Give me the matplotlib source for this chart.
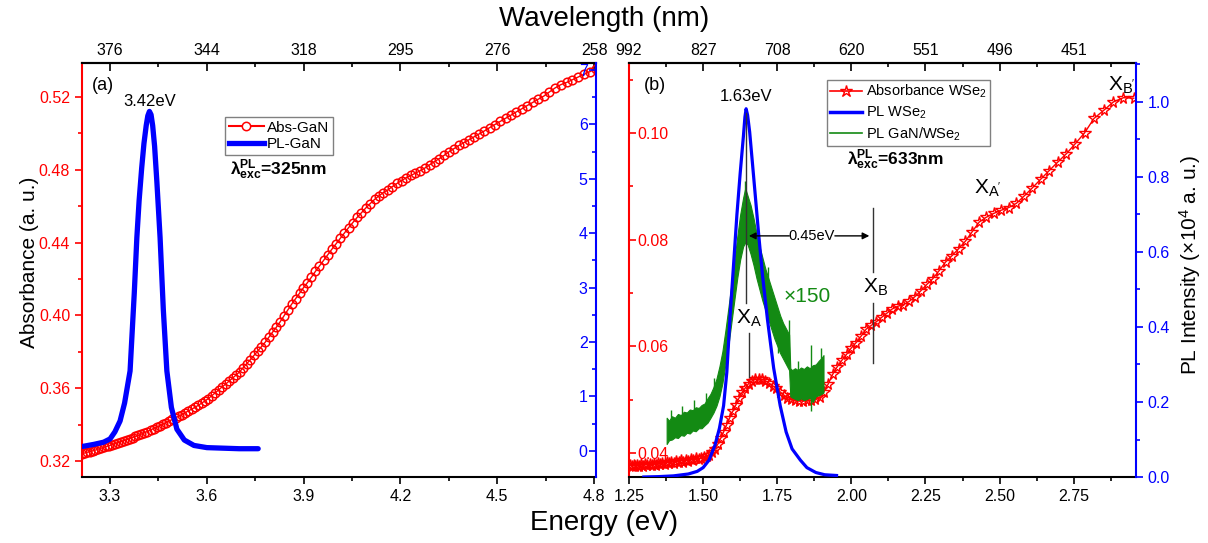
import numpy as np
import matplotlib
matplotlib.use("Agg")
import matplotlib.pyplot as plt
from matplotlib.ticker import MultipleLocator
from matplotlib.lines import Line2D

plt.rcParams['font.family'] = ['Liberation Sans', 'DejaVu Sans']
plt.rcParams['mathtext.fontset'] = 'custom'
plt.rcParams['mathtext.rm'] = 'Liberation Sans'
plt.rcParams['mathtext.it'] = 'Liberation Sans:italic'
plt.rcParams['mathtext.bf'] = 'Liberation Sans:bold'

# ---------------- data: panel (a) ----------------
gan_wavelength = np.arange(258, 387)  # nm, 1 nm steps
gan_abs = [0.5355, 0.5340, 0.5325, 0.5310, 0.5295, 0.5280, 0.5268, 0.5250, 0.5228, 0.5205,
           0.5188, 0.5170, 0.5153, 0.5135, 0.5118, 0.5100, 0.5083, 0.5066, 0.5049, 0.5032,
           0.5014, 0.4998, 0.4982, 0.4966, 0.4950, 0.4934, 0.4917, 0.4900, 0.4880, 0.4862,
           0.4845, 0.4828, 0.4810, 0.4795, 0.4782, 0.4769, 0.4756, 0.4741, 0.4725, 0.4708,
           0.4690, 0.4675, 0.4657, 0.4637, 0.4614, 0.4590, 0.4564, 0.4538, 0.4510, 0.4482,
           0.4452, 0.4423, 0.4393, 0.4363, 0.4332, 0.4302, 0.4272, 0.4242, 0.4210, 0.4180,
           0.4152, 0.4122, 0.4092, 0.4062, 0.4030, 0.3997, 0.3965, 0.3935, 0.3908, 0.3880,
           0.3852, 0.3828, 0.3805, 0.3780, 0.3757, 0.3735, 0.3713, 0.3690, 0.3672, 0.3655,
           0.3638, 0.3622, 0.3607, 0.3590, 0.3574, 0.3558, 0.3543, 0.3530, 0.3518, 0.3506,
           0.3495, 0.3485, 0.3475, 0.3465, 0.3455, 0.3446, 0.3437, 0.3428, 0.3420, 0.3411,
           0.3402, 0.3394, 0.3386, 0.3378, 0.3370, 0.3362, 0.3355, 0.3348, 0.3341, 0.3335,
           0.3329, 0.3323, 0.3317, 0.3311, 0.3305, 0.3300, 0.3295, 0.3290, 0.3285, 0.3280,
           0.3275, 0.3270, 0.3265, 0.3260, 0.3256, 0.3252, 0.3248, 0.3244, 0.3240]

gan_pl_E = [3.213, 3.25, 3.28, 3.30, 3.315, 3.331, 3.345, 3.362, 3.375, 3.383, 3.39, 3.398,
            3.405, 3.412, 3.417, 3.422, 3.427, 3.432, 3.438, 3.445, 3.455, 3.465, 3.476,
            3.49, 3.507, 3.53, 3.56, 3.60, 3.65, 3.70, 3.759]
gan_pl = [0.08, 0.12, 0.16, 0.22, 0.35, 0.55, 0.88, 1.47, 2.9, 3.92, 4.6, 5.2,
          5.65, 5.98, 6.16, 6.24, 6.18, 5.98, 5.6, 4.95, 3.92, 2.6, 1.47,
          0.8, 0.40, 0.20, 0.10, 0.06, 0.05, 0.04, 0.04]

# ---------------- data: panel (b) ----------------
wse2_wavelength = np.arange(420, 991, 5)  # nm, 5 nm steps
wse2_abs = [0.1065, 0.1066, 0.1058, 0.1042, 0.1027, 0.1000, 0.0980, 0.0961, 0.0945, 0.0929,
            0.0913, 0.0897, 0.0882, 0.0868, 0.0860, 0.0855, 0.0849, 0.0842, 0.0833, 0.0815,
            0.0797, 0.0783, 0.0770, 0.0758, 0.0742, 0.0727, 0.0716, 0.0704, 0.0693, 0.0684,
            0.0678, 0.0675, 0.0670, 0.0662, 0.0654, 0.0646, 0.0639, 0.0632, 0.0619, 0.0607,
            0.0597, 0.0585, 0.0574, 0.0562, 0.0548, 0.0530, 0.0515, 0.0505, 0.0501, 0.0499,
            0.0499, 0.0498, 0.0498, 0.0499, 0.0501, 0.0504, 0.0509, 0.0515, 0.0521, 0.0526,
            0.0531, 0.0535, 0.0538, 0.0539, 0.0538, 0.0535, 0.0530, 0.0522, 0.0514, 0.0503,
            0.0490, 0.0478, 0.0466, 0.0453, 0.0440, 0.0428, 0.0417, 0.0408, 0.0401, 0.0397,
            0.0394, 0.0392, 0.0390, 0.0389, 0.0390, 0.0387, 0.0388, 0.0385, 0.0387, 0.0384,
            0.0386, 0.0383, 0.0385, 0.0382, 0.0384, 0.0381, 0.0383, 0.0380, 0.0382, 0.0379,
            0.0381, 0.0378, 0.0380, 0.0377, 0.0380, 0.0377, 0.0379, 0.0376, 0.0379, 0.0376,
            0.0378, 0.0375, 0.0378, 0.0376, 0.0377]

wse2_pl_E = [1.30, 1.35, 1.40, 1.45, 1.48, 1.50, 1.52, 1.54, 1.555, 1.569, 1.58, 1.591,
             1.603, 1.614, 1.625, 1.636, 1.641, 1.645, 1.650, 1.657, 1.666, 1.676, 1.687,
             1.700, 1.717, 1.738, 1.760, 1.78, 1.80, 1.828, 1.85, 1.88, 1.91, 1.95]
wse2_pl = [0.0, 0.001, 0.003, 0.008, 0.015, 0.025, 0.045, 0.085, 0.13, 0.19, 0.28, 0.43,
           0.57, 0.70, 0.81, 0.91, 0.96, 0.982, 0.965, 0.92, 0.84, 0.75, 0.65,
           0.54, 0.42, 0.29, 0.19, 0.12, 0.075, 0.045, 0.025, 0.012, 0.006, 0.004]

green_E = [1.377, 1.385, 1.395, 1.405, 1.415, 1.425, 1.435, 1.445, 1.455, 1.465, 1.475, 1.485,
           1.495, 1.505, 1.515, 1.525, 1.535, 1.545, 1.555, 1.565, 1.575, 1.585, 1.595, 1.605,
           1.615, 1.625, 1.635, 1.642, 1.650, 1.660, 1.670, 1.680, 1.690, 1.700, 1.710, 1.720,
           1.730, 1.740, 1.750, 1.760, 1.770, 1.780, 1.790, 1.794, 1.800, 1.810, 1.820, 1.830,
           1.840, 1.850, 1.860, 1.870, 1.880, 1.890, 1.900, 1.906]
green_low = [0.088, 0.098, 0.100, 0.106, 0.104, 0.112, 0.110, 0.118, 0.116, 0.124, 0.122, 0.130,
             0.130, 0.138, 0.145, 0.158, 0.172, 0.190, 0.215, 0.250, 0.300, 0.350, 0.410, 0.470,
             0.530, 0.580, 0.615, 0.625, 0.620, 0.595, 0.565, 0.530, 0.500, 0.470, 0.445, 0.420,
             0.395, 0.370, 0.350, 0.330, 0.315, 0.300, 0.285, 0.215, 0.212, 0.208, 0.205, 0.210,
             0.205, 0.208, 0.212, 0.200, 0.215, 0.218, 0.222, 0.225]
green_high = [0.158, 0.150, 0.162, 0.158, 0.168, 0.165, 0.174, 0.172, 0.180, 0.178, 0.186, 0.184,
              0.192, 0.196, 0.210, 0.222, 0.240, 0.262, 0.295, 0.335, 0.390, 0.450, 0.510, 0.575,
              0.640, 0.700, 0.745, 0.770, 0.750, 0.725, 0.690, 0.650, 0.615, 0.585, 0.555, 0.530,
              0.505, 0.480, 0.455, 0.430, 0.410, 0.395, 0.380, 0.290, 0.285, 0.290, 0.285, 0.292,
              0.288, 0.295, 0.290, 0.298, 0.300, 0.310, 0.318, 0.325]
spike_E = [1.39, 1.43, 1.47, 1.51, 1.536, 1.64, 1.72, 1.754, 1.791, 1.82, 1.864, 1.896]
spike_low = [0.14, 0.15, 0.17, 0.18, 0.22, 0.70, 0.50, 0.33, 0.30, 0.26, 0.176, 0.28]
spike_high = [0.18, 0.19, 0.205, 0.225, 0.265, 0.79, 0.56, 0.437, 0.42, 0.31, 0.353, 0.345]

top_ticks_a = [3.3, 3.6, 3.9, 4.2, 4.5, 4.8]
top_labels_a = ['376', '344', '318', '295', '276', '258']
top_ticks_b = [1.25, 1.5, 1.75, 2.0, 2.25, 2.5, 2.75]
top_labels_b = ['992', '827', '708', '620', '551', '496', '451']

RED = '#ff0000'
BLUE = '#0000ff'
GREEN = '#138a13'
W, H = 1208, 543

fig = plt.figure(figsize=(W / 100, H / 100), dpi=100)

def axrect(x0, x1, y0=63, y1=477):
    return [x0 / W, 1 - y1 / H, (x1 - x0) / W, (y1 - y0) / H]

TICK_FS = 11.5

def style_common(ax, ax2, left_color, right_color):
    for s in ['left', 'top', 'bottom', 'right']:
        ax.spines[s].set_linewidth(1.5)
        ax2.spines[s].set_linewidth(1.5)
    ax.spines['right'].set_visible(False)
    ax2.spines['left'].set_visible(False)
    ax2.spines['top'].set_visible(False)
    ax2.spines['bottom'].set_visible(False)
    ax.spines['left'].set_color(left_color)
    ax2.spines['right'].set_color(right_color)
    ax.tick_params(axis='x', which='both', direction='out', labelsize=TICK_FS, top=False, width=1.2)
    ax.tick_params(axis='x', which='major', length=5)
    ax.tick_params(axis='x', which='minor', length=3)


# ---------------- panel (a) ----------------
axa = fig.add_axes(axrect(82, 596))
axa2 = axa.twinx()
style_common(axa, axa2, RED, BLUE)
Ea = 1240.0 / gan_wavelength
axa.plot(Ea, gan_abs, '-o', color=RED, lw=1, ms=6.2, mfc='none', mew=1.1)
axa2.plot(gan_pl_E, gan_pl, '-', color=BLUE, lw=3.8, solid_capstyle='round',
          solid_joinstyle='round')
axa.set_xlim(3.213, 4.806)
axa.set_ylim(0.3112, 0.5387)
axa2.set_ylim(-0.48, 7.13)
axa.set_xticks([3.3, 3.6, 3.9, 4.2, 4.5, 4.8])
axa.set_xticklabels(['3.3', '3.6', '3.9', '4.2', '4.5', '4.8'])
axa.xaxis.set_minor_locator(MultipleLocator(0.15))
axa.set_yticks([0.32, 0.36, 0.40, 0.44, 0.48, 0.52])
axa.set_yticklabels(['0.32', '0.36', '0.40', '0.44', '0.48', '0.52'])
axa.yaxis.set_minor_locator(MultipleLocator(0.02))
axa.tick_params(axis='y', which='both', direction='out', colors=RED, labelsize=TICK_FS, width=1.2)
axa.tick_params(axis='y', which='major', length=5)
axa.tick_params(axis='y', which='minor', length=3)
axa2.set_yticks([0, 1, 2, 3, 4, 5, 6, 7])
axa2.yaxis.set_minor_locator(MultipleLocator(0.5))
axa2.tick_params(axis='y', which='both', direction='in', colors=BLUE, labelsize=TICK_FS,
                 width=1.2, pad=-6)
axa2.tick_params(axis='y', which='major', length=5)
axa2.tick_params(axis='y', which='minor', length=3)
plt.setp(axa2.get_yticklabels(), ha='right')

secA = axa.secondary_xaxis('top')
secA.set_xticks(top_ticks_a)
secA.set_xticklabels(top_labels_a)
secA.xaxis.set_minor_locator(MultipleLocator(0.15))
secA.tick_params(which='both', direction='in', labelsize=TICK_FS, width=1.2)
secA.tick_params(which='major', length=6)
secA.tick_params(which='minor', length=3)
secA.spines['top'].set_linewidth(1.5)

LAMBDA = r'$\mathbf{\lambda}^{\mathbf{PL}}_{\mathbf{exc}}$'
axa2.text(0.04, 0.945, '(a)', transform=axa.transAxes, fontsize=13, ha='center', va='center')
axa2.text(3.424, 6.43, '3.42eV', fontsize=12, ha='center', va='center')
axa2.text(3.823, 5.16, LAMBDA + '=325nm', fontsize=12.5,
          fontweight='bold', ha='center', va='center')
ha_leg = [Line2D([], [], color=RED, lw=1.5, marker='o', ms=6, mfc='white', mew=1.1),
          Line2D([], [], color=BLUE, lw=3.8)]
lega = axa2.legend(ha_leg, ['Abs-GaN', 'PL-GaN'], loc='upper left',
                   bbox_to_anchor=((225 - 82) / 514, (477 - 117) / 414), fontsize=11,
                   frameon=True, fancybox=False, edgecolor='#808080', framealpha=1,
                   handlelength=2.3, handletextpad=0.2, borderpad=0.25, labelspacing=0.15,
                   borderaxespad=0)
lega.get_frame().set_linewidth(1.0)

# ---------------- panel (b) ----------------
axb = fig.add_axes(axrect(629, 1136))
axb2 = axb.twinx()
style_common(axb, axb2, RED, BLUE)
Eb = 1240.0 / wse2_wavelength
axb.plot(Eb, wse2_abs, '-*', color=RED, lw=1, ms=8.5, mfc='none', mew=1.0)
axb2.fill_between(green_E, green_low, green_high, color=GREEN, lw=0.8, edgecolor=GREEN)
axb2.vlines(spike_E, spike_low, spike_high, color=GREEN, lw=1.0)
axb2.plot(wse2_pl_E, wse2_pl, '-', color=BLUE, lw=2.3, solid_joinstyle='round')
axb.set_xlim(1.25, 2.96)
axb.set_ylim(0.0355, 0.1131)
axb2.set_ylim(0, 1.104)
axb.set_xticks([1.25, 1.5, 1.75, 2.0, 2.25, 2.5, 2.75])
axb.set_xticklabels(['1.25', '1.50', '1.75', '2.00', '2.25', '2.50', '2.75'])
axb.xaxis.set_minor_locator(MultipleLocator(0.125))
axb.set_yticks([0.04, 0.06, 0.08, 0.10])
axb.set_yticklabels(['0.04', '0.06', '0.08', '0.10'])
axb.yaxis.set_minor_locator(MultipleLocator(0.01))
axb.tick_params(axis='y', which='both', direction='in', colors=RED, labelsize=TICK_FS,
                width=1.2, pad=-6)
axb.tick_params(axis='y', which='major', length=5)
axb.tick_params(axis='y', which='minor', length=3)
plt.setp(axb.get_yticklabels(), ha='left')
axb2.set_yticks([0.0, 0.2, 0.4, 0.6, 0.8, 1.0])
axb2.set_yticklabels(['0.0', '0.2', '0.4', '0.6', '0.8', '1.0'])
axb2.yaxis.set_minor_locator(MultipleLocator(0.1))
axb2.tick_params(axis='y', which='both', direction='out', colors=BLUE, labelsize=TICK_FS, width=1.2)
axb2.tick_params(axis='y', which='major', length=5)
axb2.tick_params(axis='y', which='minor', length=3)

secB = axb.secondary_xaxis('top')
secB.set_xticks(top_ticks_b)
secB.set_xticklabels(top_labels_b)
secB.xaxis.set_minor_locator(MultipleLocator(0.125))
secB.tick_params(which='both', direction='in', labelsize=TICK_FS, width=1.2)
secB.tick_params(which='major', length=6)
secB.tick_params(which='minor', length=3)
secB.spines['top'].set_linewidth(1.5)

ANN = '#333333'
axb2.text(0.052, 0.945, '(b)', transform=axb.transAxes, fontsize=13, ha='center', va='center')
axb2.text(1.645, 1.015, '1.63eV', fontsize=12, ha='center', va='center')
axb2.plot([1.645, 1.645], [0.971, 0.464], color=ANN, lw=1)
axb2.text(1.655, 0.424, r'X$_\mathregular{A}$', fontsize=15, ha='center', va='center')
axb2.plot([1.655, 1.655], [0.384, 0.267], color=ANN, lw=1)
axb2.plot([2.073, 2.073], [0.717, 0.547], color=ANN, lw=1)
axb2.text(2.08, 0.507, r'X$_\mathregular{B}$', fontsize=15, ha='center', va='center')
axb2.plot([2.073, 2.073], [0.464, 0.304], color=ANN, lw=1)
axb2.annotate('', xy=(1.645, 0.643), xytext=(1.80, 0.643),
              arrowprops=dict(arrowstyle='-|>', color='black', lw=1, mutation_scale=10))
axb2.annotate('', xy=(2.070, 0.643), xytext=(1.935, 0.643),
              arrowprops=dict(arrowstyle='-|>', color='black', lw=1, mutation_scale=10))
axb2.text(1.867, 0.643, '0.45eV', fontsize=10.5, ha='center', va='center')
axb2.text(1.850, 0.48, '\u00d7150', fontsize=15, color=GREEN, ha='center', va='center')
axb2.text(2.461, 0.771, r"X$_\mathregular{A'}$", fontsize=15, ha='center', va='center')
axb2.text(2.913, 1.045, r"X$_\mathregular{B'}$", fontsize=15, ha='center', va='center')
axb2.text(2.147, 0.845, LAMBDA + '=633nm', fontsize=12.5,
          fontweight='bold', ha='center', va='center')
hb_leg = [Line2D([], [], color=RED, lw=1.2, marker='*', ms=9, mfc='none', mew=1.0),
          Line2D([], [], color=BLUE, lw=2.5),
          Line2D([], [], color=GREEN, lw=1.2)]
legb = axb2.legend(hb_leg, [r'Absorbance WSe$_2$', r'PL WSe$_2$', r'PL GaN/WSe$_2$'],
                   loc='upper left', bbox_to_anchor=((827 - 629) / 507, (477 - 80) / 414),
                   fontsize=10.5, frameon=True, fancybox=False, edgecolor='#808080',
                   framealpha=1, handlelength=2.2, handletextpad=0.3, borderpad=0.2,
                   labelspacing=0.3, borderaxespad=0)
legb.get_frame().set_linewidth(1.0)

# ---------------- figure labels ----------------
fig.text(604 / W, 1 - 19 / H, 'Wavelength (nm)', fontsize=20, ha='center', va='center')
fig.text(604 / W, 1 - 523 / H, 'Energy (eV)', fontsize=20, ha='center', va='center')
fig.text(30 / W, 1 - 262 / H, 'Absorbance (a. u.)', fontsize=15, rotation=90,
         ha='center', va='center')
fig.text(1190 / W, 1 - 265 / H, 'PL Intensity (\u00d710$^4$ a. u.)', fontsize=15, rotation=90,
         ha='center', va='center')

fig.savefig('out.png', dpi=100)
